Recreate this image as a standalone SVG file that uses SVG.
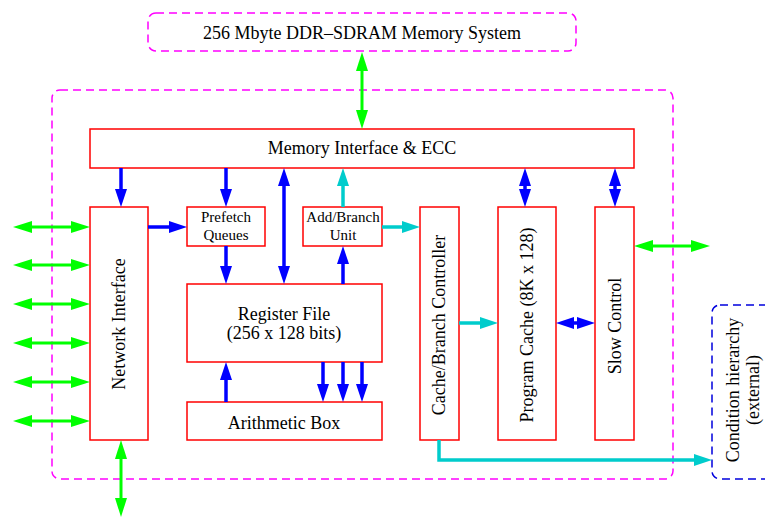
<svg xmlns="http://www.w3.org/2000/svg" width="765" height="517" viewBox="0 0 765 517">
<style>
  .box { fill: #ffffff; stroke: #ff0000; stroke-width: 1.5; }
  .dash { fill: none; stroke: #ff00ff; stroke-width: 1.5; stroke-dasharray: 8 5; }
  .dashb { fill: none; stroke: #0000dd; stroke-width: 1.5; stroke-dasharray: 8 5; }
  text { font-family: "Liberation Serif", "Times New Roman", serif; fill: #000000; text-anchor: middle; }
  .t18 { font-size: 18px; }
  .t15 { font-size: 15px; }
  .blue { fill: none; stroke: #0000ff; stroke-width: 3.5; }
  .cyan { fill: none; stroke: #00cccc; stroke-width: 3.5; }
  .green { fill: none; stroke: #00ff00; stroke-width: 3; }
</style>
<defs>
  <marker id="hb" markerUnits="userSpaceOnUse" markerWidth="18" markerHeight="12" refX="8" refY="6" orient="auto-start-reverse">
    <path d="M0,0 L18,6 L0,12 z" fill="#0000ff"/>
  </marker>
  <marker id="hc" markerUnits="userSpaceOnUse" markerWidth="18" markerHeight="12" refX="8" refY="6" orient="auto-start-reverse">
    <path d="M0,0 L18,6 L0,12 z" fill="#00cccc"/>
  </marker>
  <marker id="hg" markerUnits="userSpaceOnUse" markerWidth="19" markerHeight="12" refX="9" refY="6" orient="auto-start-reverse">
    <path d="M0,0 L19,6 L0,12 z" fill="#00ff00"/>
  </marker>
</defs>

<g id="memory-system">
  <rect class="dash" x="148" y="13" width="428" height="38" rx="8"/>
  <text class="t18" x="362" y="39">256 Mbyte DDR–SDRAM Memory System</text>
</g>

<g id="chip-boundary">
  <rect class="dash" x="52" y="90" width="621" height="389" rx="8"/>
</g>

<g id="condition-hierarchy">
  <rect class="dashb" x="712" y="305" width="66" height="174" rx="8"/>
  <text class="t18" transform="translate(739,390) rotate(-90)">Condition hierarchy</text>
  <text class="t18" transform="translate(759,390) rotate(-90)">(external)</text>
</g>

<g id="memory-interface">
  <rect class="box" x="90" y="129" width="544" height="39"/>
  <text class="t18" x="362" y="154">Memory Interface &amp; ECC</text>
</g>

<g id="network-interface">
  <rect class="box" x="90" y="207" width="58" height="233"/>
  <text class="t18" transform="translate(125,324) rotate(-90)">Network Interface</text>
</g>

<g id="prefetch-queues">
  <rect class="box" x="187" y="207" width="78" height="39"/>
  <text class="t15" x="226" y="222">Prefetch</text>
  <text class="t15" x="226" y="240">Queues</text>
</g>

<g id="add-branch-unit">
  <rect class="box" x="303" y="207" width="79" height="39"/>
  <text class="t15" x="343" y="222">Add/Branch</text>
  <text class="t15" x="343" y="240">Unit</text>
</g>

<g id="register-file">
  <rect class="box" x="187" y="284" width="195" height="78"/>
  <text class="t18" x="284" y="320">Register File</text>
  <text class="t18" x="284" y="339">(256 x 128 bits)</text>
</g>

<g id="arithmetic-box">
  <rect class="box" x="187" y="402" width="195" height="38"/>
  <text class="t18" x="284" y="429">Arithmetic Box</text>
</g>

<g id="cache-branch-controller">
  <rect class="box" x="420" y="207" width="39" height="233"/>
  <text class="t18" transform="translate(445,325) rotate(-90)">Cache/Branch Controller</text>
</g>

<g id="program-cache">
  <rect class="box" x="498" y="207" width="58" height="233"/>
  <text class="t18" transform="translate(533,325) rotate(-90)">Program Cache (8K x 128)</text>
</g>

<g id="slow-control">
  <rect class="box" x="595" y="207" width="39" height="233"/>
  <text class="t18" transform="translate(621,326) rotate(-90)">Slow Control</text>
</g>

<g id="connectors">
  <!-- blue -->
  <path class="blue" d="M121,168 V197" marker-end="url(#hb)"/>
  <path class="blue" d="M226,168 V197" marker-end="url(#hb)"/>
  <path class="blue" d="M284,178 V274" marker-start="url(#hb)" marker-end="url(#hb)"/>
  <path class="blue" d="M226,246 V274" marker-end="url(#hb)"/>
  <path class="blue" d="M343,284 V256" marker-end="url(#hb)"/>
  <path class="blue" d="M148,227 H177" marker-end="url(#hb)"/>
  <path class="blue" d="M525,178 V197" marker-start="url(#hb)" marker-end="url(#hb)"/>
  <path class="blue" d="M615,178 V197" marker-start="url(#hb)" marker-end="url(#hb)"/>
  <path class="blue" d="M566,323 H585" marker-start="url(#hb)" marker-end="url(#hb)"/>
  <path class="blue" d="M226,402 V372" marker-end="url(#hb)"/>
  <path class="blue" d="M323,362 V392" marker-end="url(#hb)"/>
  <path class="blue" d="M343,362 V392" marker-end="url(#hb)"/>
  <path class="blue" d="M362,362 V392" marker-end="url(#hb)"/>
  <!-- cyan -->
  <path class="cyan" d="M343,207 V178" marker-end="url(#hc)"/>
  <path class="cyan" d="M382,227 H410" marker-end="url(#hc)"/>
  <path class="cyan" d="M459,323 H488" marker-end="url(#hc)"/>
  <path class="cyan" d="M439,440 V460 H702" marker-end="url(#hc)"/>
  <!-- green -->
  <path class="green" d="M362,62 V119" marker-start="url(#hg)" marker-end="url(#hg)"/>
  <path class="green" d="M23,227 H80" marker-start="url(#hg)" marker-end="url(#hg)"/>
  <path class="green" d="M23,265 H80" marker-start="url(#hg)" marker-end="url(#hg)"/>
  <path class="green" d="M23,304 H80" marker-start="url(#hg)" marker-end="url(#hg)"/>
  <path class="green" d="M23,343 H80" marker-start="url(#hg)" marker-end="url(#hg)"/>
  <path class="green" d="M23,382 H80" marker-start="url(#hg)" marker-end="url(#hg)"/>
  <path class="green" d="M23,421 H80" marker-start="url(#hg)" marker-end="url(#hg)"/>
  <path class="green" d="M121,450 V507" marker-start="url(#hg)" marker-end="url(#hg)"/>
  <path class="green" d="M644,246 H700" marker-start="url(#hg)" marker-end="url(#hg)"/>
</g>
</svg>
